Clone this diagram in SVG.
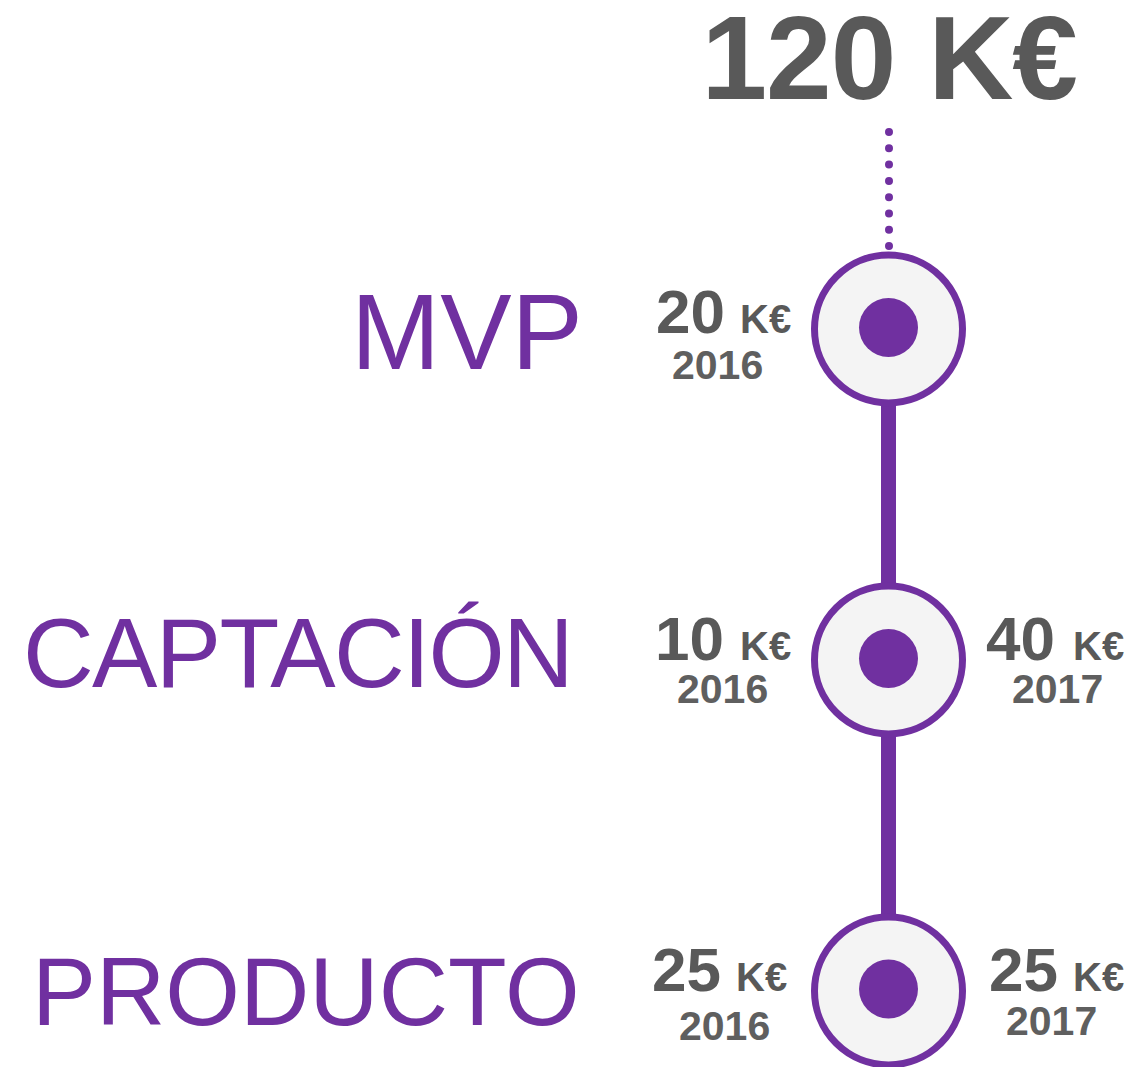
<svg xmlns="http://www.w3.org/2000/svg" width="1142" height="1067" viewBox="0 0 1142 1067">
<style>
.stage{font-family:"Liberation Sans",Arial,sans-serif;fill:#7030A0;}
.num{font-family:"Liberation Sans",Arial,sans-serif;font-weight:bold;fill:#595959;font-size:62px;}
.unit{font-family:"Liberation Sans",Arial,sans-serif;font-weight:bold;fill:#595959;font-size:40px;}
.year{font-family:"Liberation Sans",Arial,sans-serif;font-weight:bold;fill:#5f5f5f;font-size:41px;}
.ring{fill:#F4F4F4;stroke:#7030A0;stroke-width:7;}
.dot{fill:#7030A0;}
.link{stroke:#7030A0;stroke-width:15;}
</style>
<rect width="1142" height="1067" fill="#ffffff"/>
<g id="title">
<text x="1077" y="99" text-anchor="end" style="font-family:'Liberation Sans',Arial,sans-serif;font-weight:bold;font-size:118px;fill:#595959"><tspan letter-spacing="-1">120</tspan> <tspan letter-spacing="-1">K€</tspan></text>
</g>
<g id="connectors">
<line x1="889" y1="132" x2="889" y2="247" stroke="#7030A0" stroke-width="8" stroke-linecap="round" stroke-dasharray="0 16.3"/>
<line class="link" x1="888.5" y1="404" x2="888.5" y2="585"/>
<line class="link" x1="888.5" y1="735" x2="888.5" y2="916"/>
</g>
<g id="node-mvp">
<circle class="ring" cx="888.5" cy="329" r="74"/>
<circle class="dot" cx="888.5" cy="327.5" r="29.5"/>
<text class="stage" x="351" y="369" font-size="107">MVP</text>
<text class="num" x="656" y="333">20</text>
<text class="unit" x="740" y="333">K€</text>
<text class="year" x="672" y="379">2016</text>
</g>
<g id="node-captacion">
<circle class="ring" cx="888.5" cy="660" r="74"/>
<circle class="dot" cx="888.5" cy="658.5" r="29.5"/>
<text class="stage" x="23" y="687" font-size="98" letter-spacing="-1.7">CAPTACIÓN</text>
<text class="num" x="655" y="660">10</text>
<text class="unit" x="740" y="660">K€</text>
<text class="year" x="677" y="703">2016</text>
<text class="num" x="986" y="660">40</text>
<text class="unit" x="1073" y="660">K€</text>
<text class="year" x="1012" y="703">2017</text>
</g>
<g id="node-producto">
<circle class="ring" cx="888.5" cy="991" r="74"/>
<circle class="dot" cx="888.5" cy="989" r="29.5"/>
<text class="stage" x="32" y="1025" font-size="96">PRODUCTO</text>
<text class="num" x="652" y="991">25</text>
<text class="unit" x="736" y="991">K€</text>
<text class="year" x="679" y="1040">2016</text>
<text class="num" x="989" y="991">25</text>
<text class="unit" x="1073" y="991">K€</text>
<text class="year" x="1006" y="1035">2017</text>
</g>
</svg>
